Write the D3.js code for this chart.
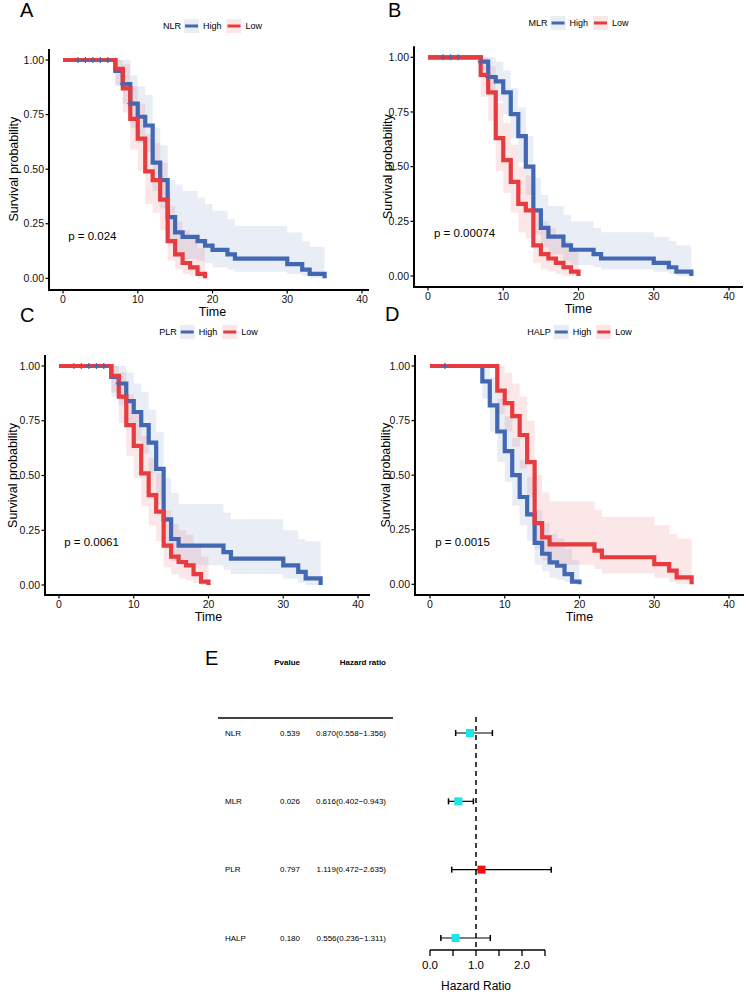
<!DOCTYPE html>
<html><head><meta charset="utf-8">
<script src="https://cdn.jsdelivr.net/npm/d3@7"></script>
<style>body{margin:0;background:#fff} svg{display:block;font-family:"Liberation Sans",Arial,sans-serif}</style>
</head><body><svg id="c" width="750" height="992"></svg>
<script>
// ---------- DATA ----------
const panelLetters = ["A","B","C","D"];
const strataVars = ["NLR","MLR","PLR","HALP"];
const groupNames = ["High","Low"];
const pLabels = ["p = 0.024","p = 0.00074","p = 0.0061","p = 0.0015"];
const xTicks = [0,10,20,30,40];
const yTicks = [0,0.25,0.5,0.75,1];

// A: NLR
const nlrHighTime  = [0,7,8,9,10,11,12,13,14,15,16,18,19,20,22,23,30,32,33,35];
const nlrHighSurv  = [1,0.95,0.89,0.80,0.74,0.70,0.53,0.45,0.28,0.21,0.19,0.17,0.15,0.13,0.11,0.09,0.065,0.04,0.02,0];
const nlrHighUpper = [1,1,1,0.93,0.88,0.84,0.69,0.61,0.45,0.43,0.40,0.37,0.34,0.31,0.27,0.24,0.21,0.17,0.145,0.145];
const nlrHighLower = [1,0.88,0.80,0.69,0.62,0.58,0.40,0.32,0.16,0.11,0.09,0.08,0.07,0.05,0.04,0.03,0.02,0.01,0,0];
const nlrHighCensor = [2,3,4,5,6,8,9];
const nlrLowTime  = [0,7,8,9,10,11,12,13,14,15,16,17,18,19];
const nlrLowSurv  = [1,0.96,0.87,0.73,0.64,0.49,0.45,0.36,0.17,0.11,0.07,0.05,0.02,0];
const nlrLowUpper = [1,1,0.98,0.88,0.80,0.66,0.62,0.53,0.33,0.26,0.22,0.18,0.14,0.14];
const nlrLowLower = [1,0.89,0.76,0.59,0.49,0.34,0.30,0.22,0.08,0.04,0.02,0.01,0,0];
const nlrLowCensor = [];

// B: MLR
const mlrHighTime  = [0,7,8,9,10,11,12,13,14,15,16,18,19,22,23,30,32,33,35];
const mlrHighSurv  = [1,0.98,0.91,0.89,0.84,0.74,0.64,0.50,0.30,0.22,0.18,0.14,0.12,0.10,0.08,0.06,0.04,0.02,0];
const mlrHighUpper = [1,1,1,0.98,0.94,0.86,0.77,0.64,0.45,0.37,0.32,0.28,0.25,0.22,0.20,0.18,0.16,0.14,0.14];
const mlrHighLower = [1,0.94,0.83,0.80,0.74,0.63,0.52,0.37,0.19,0.13,0.10,0.07,0.05,0.04,0.03,0.02,0.01,0,0];
const mlrHighCensor = [2,3,4,7,8];
const mlrLowTime  = [0,7,8,9,10,11,12,13,14,15,16,17,18,19,20];
const mlrLowSurv  = [1,0.92,0.84,0.63,0.53,0.43,0.33,0.30,0.14,0.10,0.08,0.06,0.04,0.02,0];
const mlrLowUpper = [1,1,0.96,0.79,0.70,0.60,0.50,0.46,0.29,0.25,0.22,0.19,0.16,0.13,0.13];
const mlrLowLower = [1,0.82,0.71,0.48,0.38,0.29,0.20,0.17,0.06,0.03,0.02,0.01,0,0,0];
const mlrLowCensor = [];

// C: PLR
const plrHighTime  = [0,7,8,9,10,11,12,13,14,15,16,22,23,30,32,33,35];
const plrHighSurv  = [1,0.95,0.92,0.84,0.79,0.73,0.65,0.53,0.30,0.21,0.18,0.15,0.12,0.09,0.06,0.03,0];
const plrHighUpper = [1,1,1,0.97,0.92,0.88,0.80,0.70,0.49,0.42,0.37,0.33,0.30,0.25,0.21,0.20,0.20];
const plrHighLower = [1,0.86,0.82,0.72,0.66,0.60,0.51,0.39,0.18,0.11,0.09,0.07,0.05,0.03,0.01,0,0];
const plrHighCensor = [4,5,6,8];
const plrLowTime  = [0,7,8,9,10,11,12,13,14,15,16,17,18,19,20];
const plrLowSurv  = [1,0.955,0.86,0.73,0.635,0.51,0.41,0.335,0.18,0.13,0.105,0.09,0.05,0.015,0];
const plrLowUpper = [1,1,0.97,0.87,0.79,0.68,0.58,0.51,0.34,0.28,0.25,0.23,0.18,0.13,0.13];
const plrLowLower = [1,0.88,0.74,0.59,0.49,0.36,0.27,0.20,0.08,0.05,0.03,0.02,0.01,0,0];
const plrLowCensor = [2,3];

// D: HALP
const halpHighTime  = [0,7,8,9,10,11,12,13,14,15,16,17,18,19,20];
const halpHighSurv  = [1,0.93,0.82,0.70,0.61,0.50,0.40,0.32,0.19,0.14,0.10,0.085,0.047,0.012,0];
const halpHighUpper = [1,1,0.95,0.85,0.77,0.67,0.57,0.49,0.34,0.28,0.23,0.21,0.16,0.11,0.11];
const halpHighLower = [1,0.85,0.70,0.56,0.47,0.36,0.27,0.20,0.09,0.06,0.03,0.02,0.01,0,0];
const halpHighCensor = [2];
const halpLowTime  = [0,9,10,11,12,13,14,15,16,22,23,30,32,33,35];
const halpLowSurv  = [1,0.887,0.83,0.77,0.684,0.56,0.28,0.215,0.183,0.154,0.124,0.092,0.063,0.032,0];
const halpLowUpper = [1,1,0.97,0.92,0.86,0.75,0.50,0.42,0.38,0.34,0.31,0.27,0.23,0.21,0.21];
const halpLowLower = [1,0.78,0.70,0.63,0.53,0.40,0.16,0.11,0.09,0.07,0.05,0.03,0.01,0,0];
const halpLowCensor = [];

// E: forest plot
const forestVars = ["NLR","MLR","PLR","HALP"];
const forestP    = ["0.539","0.026","0.797","0.180"];
const forestHR   = [0.870,0.616,1.119,0.556];
const forestLow  = [0.558,0.402,0.472,0.236];
const forestHigh = [1.356,0.943,2.635,1.311];
const forestTicks = [0,0.5,1,1.5,2,2.5];
const forestTickLabels = ["0.0","","1.0","","2.0",""];

// ---------- BUILD ----------
function curve(time,surv,upper,lower,censor){
  return {pts: time.map((t,i)=>({t, s:surv[i], u:upper[i], l:lower[i]})), censor};
}
const kmData = [
  [curve(nlrHighTime,nlrHighSurv,nlrHighUpper,nlrHighLower,nlrHighCensor), curve(nlrLowTime,nlrLowSurv,nlrLowUpper,nlrLowLower,nlrLowCensor)],
  [curve(mlrHighTime,mlrHighSurv,mlrHighUpper,mlrHighLower,mlrHighCensor), curve(mlrLowTime,mlrLowSurv,mlrLowUpper,mlrLowLower,mlrLowCensor)],
  [curve(plrHighTime,plrHighSurv,plrHighUpper,plrHighLower,plrHighCensor), curve(plrLowTime,plrLowSurv,plrLowUpper,plrLowLower,plrLowCensor)],
  [curve(halpHighTime,halpHighSurv,halpHighUpper,halpHighLower,halpHighCensor), curve(halpLowTime,halpLowSurv,halpLowUpper,halpLowLower,halpLowCensor)]
];

// layout (pixels)
const layout = [
  {x0:63,  x40:362, yT:60,   yB:278.3, axX:49,  axY:290, axEnd:369, legY:26,  letX:20,  letY:17,  titX:14,  pt:0.7},
  {x0:428, x40:729, yT:57.3, yB:276,   axX:414, axY:287, axEnd:743, legY:23,  letX:388, letY:17,  titX:388, pt:0.8},
  {x0:59,  x40:358, yT:366,  yB:585,   axX:45,  axY:595, axEnd:370, legY:332, letX:20,  letY:322, titX:13,  pt:0.7},
  {x0:430, x40:729, yT:366,  yB:584.3, axX:415, axY:595, axEnd:744, legY:332, letX:385, letY:321, titX:386, pt:0.7}
];
const colors = ["#4268B3","#E63B3F"];
const bandOpacity = 0.12;

const svg = d3.select("#c");

kmData.forEach((groups,pi)=>{
  const L = layout[pi];
  const x = d3.scaleLinear().domain([0,40]).range([L.x0,L.x40]);
  const y = d3.scaleLinear().domain([0,1]).range([L.yB,L.yT]);
  const g = svg.append("g");

  groups.forEach((c,gi)=>{
    const area = d3.area().curve(d3.curveStepAfter).x(d=>x(d.t)).y0(d=>y(d.l)).y1(d=>y(d.u));
    g.append("path").attr("d",area(c.pts)).attr("fill",colors[gi]).attr("fill-opacity",bandOpacity);
  });
  groups.forEach((c,gi)=>{
    const line = d3.line().curve(d3.curveStepAfter).x(d=>x(d.t)).y(d=>y(d.s));
    g.append("path").attr("d",line(c.pts)).attr("fill","none").attr("stroke",colors[gi]).attr("stroke-width",4.2);
  });
  groups.forEach((c,gi)=>{
    c.censor.forEach(ct=>{
      let s=1; c.pts.forEach(p=>{ if(p.t<=ct) s=p.s; });
      const cx=x(ct), cy=y(s);
      g.append("path").attr("d",`M${cx-3},${cy}H${cx+3}M${cx},${cy-3}V${cy+3}`)
        .attr("stroke",colors[gi]).attr("stroke-width",1.3);
    });
  });

  g.append("line").attr("x1",L.axX).attr("x2",L.axX).attr("y1",y(1.05)).attr("y2",L.axY+1).attr("stroke","#000").attr("stroke-width",2);
  g.append("line").attr("x1",L.axX-1).attr("x2",L.axEnd).attr("y1",L.axY).attr("y2",L.axY).attr("stroke","#000").attr("stroke-width",2);
  yTicks.forEach(v=>{
    g.append("line").attr("x1",L.axX-3.5).attr("x2",L.axX).attr("y1",y(v)).attr("y2",y(v)).attr("stroke","#000").attr("stroke-width",1.2);
    g.append("text").attr("x",L.axX-5).attr("y",y(v)).attr("dy","0.35em").attr("text-anchor","end")
      .attr("font-size",10.5).attr("fill","#111").text(d3.format(".2f")(v));
  });
  xTicks.forEach(v=>{
    g.append("line").attr("x1",x(v)).attr("x2",x(v)).attr("y1",L.axY).attr("y2",L.axY+3.5).attr("stroke","#000").attr("stroke-width",1.2);
    g.append("text").attr("x",x(v)).attr("y",L.axY+9).attr("dy","0.35em").attr("text-anchor","middle")
      .attr("font-size",10.5).attr("fill","#111").text(v);
  });
  g.append("text").attr("x",(L.x0+L.x40)/2).attr("y",L.axY+22).attr("dy","0.35em").attr("text-anchor","middle")
    .attr("font-size",12.5).text("Time");
  g.append("text").attr("transform",`translate(${L.titX},${(y(0)+y(1))/2}) rotate(-90)`).attr("dy","0.35em")
    .attr("text-anchor","middle").attr("font-size",12.5).text("Survival probability");
  g.append("text").attr("x",x(L.pt)).attr("y",y(0.195)).attr("dy","0.35em").attr("font-size",11.5).text(pLabels[pi]);
  g.append("text").attr("x",L.letX).attr("y",L.letY).attr("font-size",20).text(panelLetters[pi]);

  const leg = g.append("g");
  let cx = 0;
  const t0 = leg.append("text").attr("x",cx).attr("y",0).attr("dy","0.35em").attr("font-size",9).text(strataVars[pi]);
  cx += t0.node().getComputedTextLength() + 3;
  groupNames.forEach((gn,gi)=>{
    leg.append("rect").attr("x",cx).attr("y",-7).attr("width",15).attr("height",14).attr("fill",colors[gi]).attr("fill-opacity",bandOpacity);
    leg.append("line").attr("x1",cx+1).attr("x2",cx+14).attr("y1",0).attr("y2",0).attr("stroke",colors[gi]).attr("stroke-width",3);
    cx += 19;
    const tt = leg.append("text").attr("x",cx).attr("y",0).attr("dy","0.35em").attr("font-size",9).text(gn);
    cx += tt.node().getComputedTextLength() + 5;
  });
  const legW = cx - 5;
  leg.attr("transform",`translate(${(L.x0+L.x40)/2 - legW/2},${L.legY})`);
});

// ---------- FOREST ----------
const fx = d3.scaleLinear().domain([0,2.5]).range([430,545]);
const fy = d3.scalePoint().domain(forestVars).range([733,938]);
const fg = svg.append("g");
fg.append("text").attr("x",205).attr("y",665).attr("font-size",20).text("E");
fg.append("text").attr("x",300).attr("y",665).attr("text-anchor","end").attr("font-size",8).attr("font-weight","bold").text("Pvalue");
fg.append("text").attr("x",386).attr("y",665).attr("text-anchor","end").attr("font-size",8).attr("font-weight","bold").text("Hazard ratio");
fg.append("line").attr("x1",218).attr("x2",393).attr("y1",718).attr("y2",718).attr("stroke","#000").attr("stroke-width",1.3);

forestVars.forEach((v,i)=>{
  const yy = fy(v);
  fg.append("text").attr("x",225).attr("y",yy).attr("dy","0.35em").attr("font-size",8).text(v);
  fg.append("text").attr("x",300).attr("y",yy).attr("dy","0.35em").attr("text-anchor","end").attr("font-size",8).text(forestP[i]);
  fg.append("text").attr("x",386).attr("y",yy).attr("dy","0.35em").attr("text-anchor","end").attr("font-size",8)
    .text(`${forestHR[i].toFixed(3)}(${forestLow[i].toFixed(3)}\u2212${forestHigh[i].toFixed(3)})`);
});
fg.append("line").attr("x1",fx(1)).attr("x2",fx(1)).attr("y1",717).attr("y2",950).attr("stroke","#000")
  .attr("stroke-width",1.5).attr("stroke-dasharray","5,4");
forestVars.forEach((v,i)=>{
  const yy = fy(v);
  fg.append("line").attr("x1",fx(forestLow[i])).attr("x2",fx(forestHigh[i])).attr("y1",yy).attr("y2",yy).attr("stroke","#000").attr("stroke-width",1.2);
  [forestLow[i],forestHigh[i]].forEach(e=>{
    fg.append("line").attr("x1",fx(e)).attr("x2",fx(e)).attr("y1",yy-3).attr("y2",yy+3).attr("stroke","#000").attr("stroke-width",1.5);
  });
  fg.append("rect").attr("x",fx(forestHR[i])-4).attr("y",yy-4).attr("width",8).attr("height",8)
    .attr("fill", forestHR[i]>1 ? "#EE1111" : "#19E6E6");
});
fg.append("line").attr("x1",fx(0)).attr("x2",fx(2.5)).attr("y1",950).attr("y2",950).attr("stroke","#000").attr("stroke-width",1.3);
forestTicks.forEach((t,i)=>{
  fg.append("line").attr("x1",fx(t)).attr("x2",fx(t)).attr("y1",950).attr("y2",956).attr("stroke","#000").attr("stroke-width",1.3);
  if(forestTickLabels[i]) fg.append("text").attr("x",fx(t)).attr("y",965).attr("dy","0.35em").attr("text-anchor","middle").attr("font-size",11.5).text(forestTickLabels[i]);
});
fg.append("text").attr("x",fx(1)).attr("y",986).attr("dy","0.35em").attr("text-anchor","middle").attr("font-size",12).text("Hazard Ratio");
</script></body></html>
